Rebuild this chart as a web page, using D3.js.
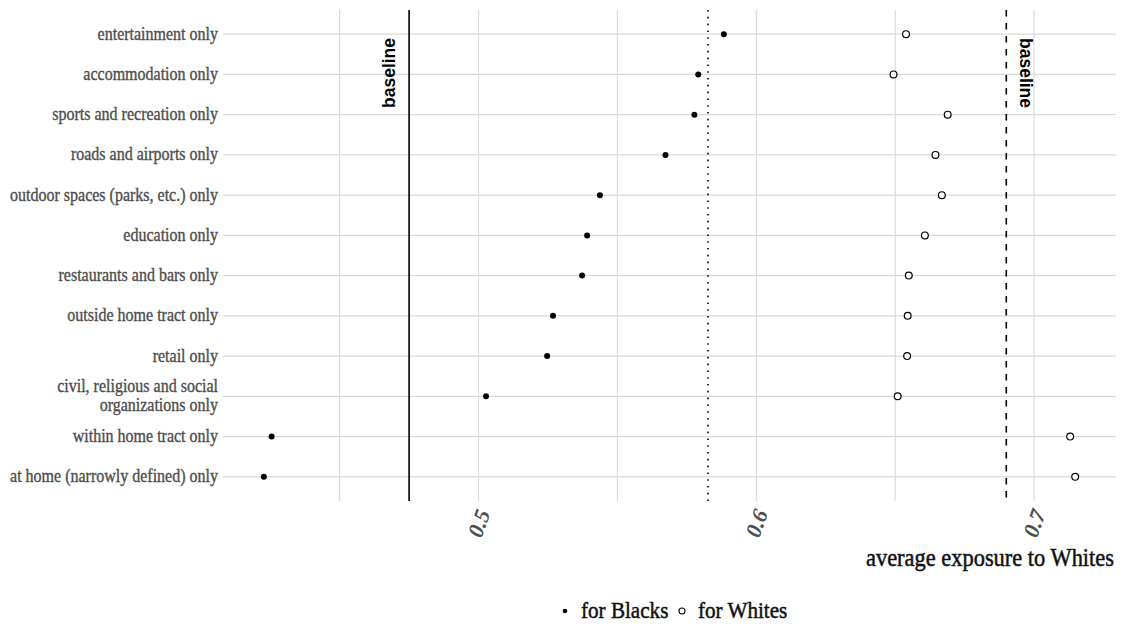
<!DOCTYPE html>
<html>
<head>
<meta charset="utf-8">
<script src="https://cdnjs.cloudflare.com/ajax/libs/d3/7.8.5/d3.min.js"></script>
<style>
  body { margin: 0; background: #fff; }
  text { font-family: "Liberation Serif", serif; }
</style>
</head>
<body>
<script>
// categories, top to bottom
var categories = [
  "entertainment only",
  "accommodation only",
  "sports and recreation only",
  "roads and airports only",
  "outdoor spaces (parks, etc.) only",
  "education only",
  "restaurants and bars only",
  "outside home tract only",
  "retail only",
  "civil, religious and social|organizations only",
  "within home tract only",
  "at home (narrowly defined) only"
];

// average exposure to Whites
var forBlacks = [0.5883, 0.5791, 0.5777, 0.5673, 0.5437, 0.5391, 0.5373, 0.5268, 0.5247, 0.5027, 0.4255, 0.4227];
var forWhites = [0.6539, 0.6494, 0.6689, 0.6645, 0.6668, 0.6607, 0.6549, 0.6545, 0.6543, 0.6509, 0.7130, 0.7148];

var majorTicks = [0.5, 0.6, 0.7];
var minorTicks = [0.45, 0.55, 0.65];

// baselines: black pop, overall (dotted), white pop
var baselineBlacks = 0.475;
var baselineAll = 0.5826;
var baselineWhites = 0.690;

var width = 1125;
var height = 628;
var panel = {left: 223, right: 1116, top: 10, bottom: 501};
var squeeze = "scale(0.88,1)";   // the font in the original is a narrow serif

var svg = d3.select("body")
            .append("svg")
            .attr("width", width)
            .attr("height", height);

var x = d3.scaleLinear()
          .domain([0.408, 0.7295])
          .range([panel.left, panel.right]);

var y = d3.scalePoint()
          .domain(categories)
          .range([panel.top, panel.bottom])
          .padding(0.6);

// grid
svg.selectAll("line.hgrid")
   .data(categories)
   .enter()
   .append("line")
   .attr("x1", panel.left).attr("x2", panel.right)
   .attr("y1", d => y(d)).attr("y2", d => y(d))
   .attr("stroke", "#d9d9d9").attr("stroke-width", 1.1);

svg.selectAll("line.vgrid")
   .data(majorTicks.concat(minorTicks))
   .enter()
   .append("line")
   .attr("x1", d => x(d)).attr("x2", d => x(d))
   .attr("y1", panel.top).attr("y2", panel.bottom)
   .attr("stroke", "#d9d9d9").attr("stroke-width", 1.1);

// baseline lines
svg.append("line")
   .attr("x1", x(baselineBlacks)).attr("x2", x(baselineBlacks))
   .attr("y1", panel.top).attr("y2", panel.bottom)
   .attr("stroke", "#000").attr("stroke-width", 1.6);

svg.append("line")
   .attr("x1", x(baselineAll)).attr("x2", x(baselineAll))
   .attr("y1", panel.top).attr("y2", panel.bottom)
   .attr("stroke", "#000").attr("stroke-width", 1.6)
   .attr("stroke-dasharray", "1.6,5.2");

svg.append("line")
   .attr("x1", x(baselineWhites)).attr("x2", x(baselineWhites))
   .attr("y1", panel.top).attr("y2", panel.bottom)
   .attr("stroke", "#000").attr("stroke-width", 1.6)
   .attr("stroke-dasharray", "6.5,6.5");

svg.append("text")
   .attr("transform", "translate(" + (x(baselineBlacks) - 14) + ",108) rotate(-90)")
   .style("font-family", "'Liberation Sans', Arial, sans-serif")
   .style("font-weight", "bold")
   .style("font-size", "17.5px")
   .text("baseline");

svg.append("text")
   .attr("transform", "translate(" + (x(baselineWhites) + 14) + ",38) rotate(90)")
   .style("font-family", "'Liberation Sans', Arial, sans-serif")
   .style("font-weight", "bold")
   .style("font-size", "17.5px")
   .text("baseline");

// y labels
var ylab = svg.selectAll("text.ylab")
   .data(categories)
   .enter()
   .append("text")
   .attr("class", "ylab")
   .attr("text-anchor", "end")
   .attr("fill", "#4d4d4d")
   .attr("stroke", "#4d4d4d")
   .attr("stroke-width", 0.35)
   .style("font-size", "18.2px")
   .attr("transform", d => "translate(218," + y(d) + ") " + squeeze);

ylab.each(function(d) {
  var lines = d.split("|");
  var t = d3.select(this);
  lines.forEach(function(l, i) {
    t.append("tspan")
     .attr("x", 0)
     .attr("y", (i - (lines.length - 1) / 2) * 19 + 5.5)
     .text(l);
  });
});

// x tick labels
svg.selectAll("text.xtick")
   .data(majorTicks)
   .enter()
   .append("text")
   .attr("text-anchor", "end")
   .attr("fill", "#4d4d4d")
   .style("font-size", "22px")
   .style("font-style", "italic")
   .style("font-weight", "bold")
   .attr("transform", d => "translate(" + (x(d) + 12) + ",513) rotate(-70)")
   .text(d3.format(".1f"));

// axis title
svg.append("text")
   .attr("transform", "translate(1114,566) " + squeeze)
   .attr("text-anchor", "end")
   .attr("fill", "#111")
   .attr("stroke", "#111")
   .attr("stroke-width", 0.5)
   .style("font-size", "25.5px")
   .text("average exposure to Whites");

// points
svg.selectAll("circle.black")
   .data(forBlacks)
   .enter()
   .append("circle")
   .attr("cx", d => x(d))
   .attr("cy", (d, i) => y(categories[i]))
   .attr("r", 3)
   .attr("fill", "#000");

svg.selectAll("circle.white")
   .data(forWhites)
   .enter()
   .append("circle")
   .attr("cx", d => x(d))
   .attr("cy", (d, i) => y(categories[i]))
   .attr("r", 3.4)
   .attr("fill", "#fff")
   .attr("stroke", "#000")
   .attr("stroke-width", 1.2);

// legend
var legend = svg.append("g").attr("transform", "translate(581,618)");
legend.append("circle").attr("cx", -16).attr("cy", -7).attr("r", 2.3).attr("fill", "#000");
legend.append("text").attr("transform", squeeze).style("font-size", "24px")
      .attr("fill", "#111").attr("stroke", "#111").attr("stroke-width", 0.5).text("for Blacks");
legend.append("circle").attr("cx", 101).attr("cy", -7).attr("r", 3).attr("fill", "none").attr("stroke", "#000").attr("stroke-width", 1.1);
legend.append("text").attr("transform", "translate(117,0) " + squeeze).style("font-size", "24px")
      .attr("fill", "#111").attr("stroke", "#111").attr("stroke-width", 0.5).text("for Whites");
</script>
</body>
</html>
